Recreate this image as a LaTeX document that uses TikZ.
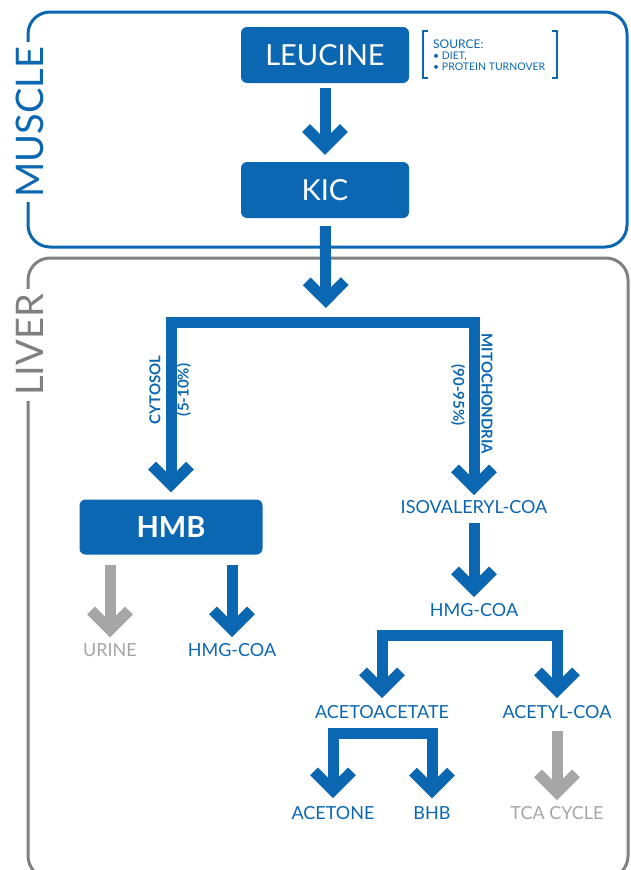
\documentclass[tikz,border=0pt]{standalone}
\usepackage{fontspec}
\setmainfont{Lato}
\usetikzlibrary{arrows.meta}

\definecolor{pathblue}{RGB}{11,103,178}
\definecolor{lightgrey}{RGB}{166,166,166}
\definecolor{boxgrey}{RGB}{128,128,128}

\begin{document}
\begin{tikzpicture}[
    x=1pt, y=-1pt,
    every node/.style={anchor=center, font=\fontsize{18}{20}\selectfont},
    compound/.style={fill=pathblue, text=white, rounded corners=6pt, minimum width=168pt, minimum height=56pt, font=\fontsize{29}{30}\selectfont},
    product/.style={text=pathblue, inner sep=2pt},
    waste/.style={text=lightgrey, inner sep=2pt},
    organ/.style={fill=white, rotate=90, inner sep=5pt, font=\fontsize{38}{40}\selectfont},
    route/.style={text=pathblue, inner sep=0pt, font=\bfseries\fontsize{15}{16}\selectfont},
    arrow/.style={-{Straight Barb[length=19pt, width=38pt]}, line width=11pt, draw=pathblue},
    greyarrow/.style={arrow, draw=lightgrey}
    ]

\useasboundingbox (0,0) rectangle (630,870);

% Muscle and Liver
\draw[pathblue, line width=3pt, rounded corners=22pt] (28,12) rectangle (627,247);
\node[organ, text=pathblue] (muscle) at (30,122) {MUSCLE};
\draw[boxgrey, line width=3pt, rounded corners=22pt] (28,258) rectangle (628,878);
\node[organ, text=boxgrey] (liver) at (30,345) {LIVER};

% Leucine to KIC
\node[compound] (leucine) at (325,55) {LEUCINE};
\node[compound] (kic) at (325,190) {KIC};
\node[product, anchor=west, align=left, font=\fontsize{10.5}{11}\selectfont] (source) at (431,55) {{\fontsize{12}{12}\selectfont SOURCE:}\\ • DIET,\\ • PROTEIN TURNOVER};
\draw[pathblue, line width=2.5pt] (428,31) -| (423,78) -- (428,78);
\draw[pathblue, line width=2.5pt] (552,31) -| (557,78) -- (552,78);

\draw[arrow, shorten <=5pt, shorten >=7pt] (leucine) -- (kic);

% Split in the liver
\coordinate (fork) at (326,322);
\draw[arrow, shorten <=8pt, shorten >=14pt] (kic) -- (fork);

\node[compound, minimum width=183pt, minimum height=55pt, font=\bfseries\fontsize{29}{30}\selectfont] (hmb) at (171,527) {HMB};
\node[product] (iso) at (474,507) {ISOVALERYL-COA};

\draw[arrow, shorten >=7pt] (fork) -| (hmb);
\draw[arrow, shorten >=3pt] (fork) -| (iso);

\node[route, rotate=90] (cytosol) at (155,390) {CYTOSOL};
\node[route, rotate=90] (cytosol share) at (184,390) {(5-10\%)};
\node[route, rotate=-90] (mito) at (487,394) {MITOCHONDRIA};
\node[route, rotate=-90] (mito share) at (458,395) {(90-95\%)};

% HMB side
\node[waste] (urine) at (110,650) {URINE};
\node[product] (hmg left) at (232,650) {HMG-COA};

\draw[greyarrow, shorten <=10pt, shorten >=4pt] (hmb.south -| urine) -- (urine);
\draw[arrow, shorten <=10pt, shorten >=4pt] (hmb.south -| hmg left) -- (hmg left);

% Mitochondria side
\node[product] (hmg right) at (474,610) {HMG-COA};
\draw[arrow, shorten <=7pt, shorten >=4pt] (iso) -- (hmg right);

\coordinate (fork2) at (470,635);
\node[product] (acetoacetate) at (382,712) {ACETOACETATE};
\node[product] (acetyl) at (557,712) {ACETYL-COA};
\draw[arrow, shorten >=5pt] (fork2) -| (acetoacetate);
\draw[arrow, shorten >=5pt] (fork2) -| (acetyl);

\coordinate (fork3) at (382,733);
\node[product] (acetone) at (333,813) {ACETONE};
\node[product] (bhb) at (432,813) {BHB};
\node[waste] (tca) at (557,813) {TCA CYCLE};
\draw[arrow, shorten >=6pt] (fork3) -| (acetone);
\draw[arrow, shorten >=6pt] (fork3) -| (bhb);
\draw[greyarrow, shorten <=10pt, shorten >=4pt] (acetyl) -- (tca);

\end{tikzpicture}
\end{document}
